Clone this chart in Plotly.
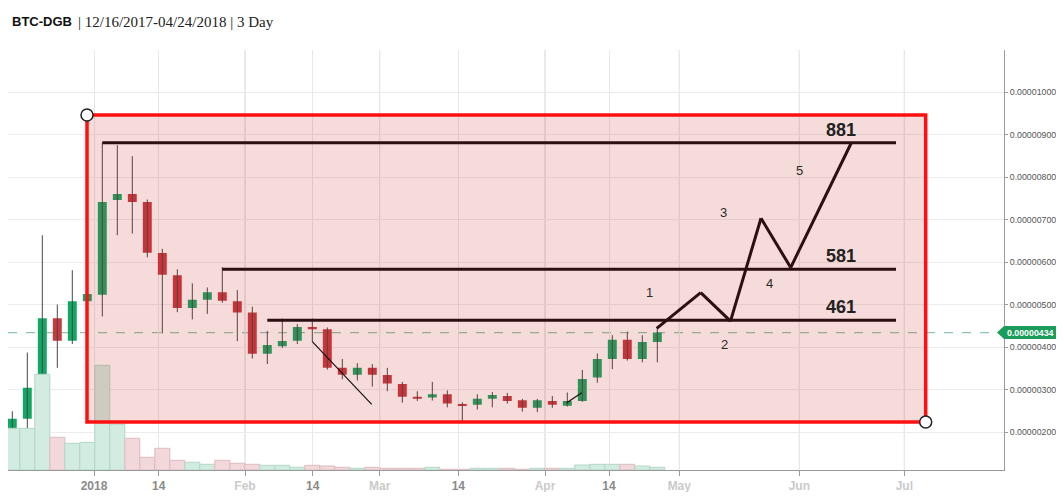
import datetime as dt
import plotly.graph_objects as go

# ---------------- data (prices in units of 1e-8 BTC) ----------------
START = dt.date(2017, 12, 16)
BAR_DAYS = 3
opens  = [168, 231, 305, 468, 415, 508, 523, 746, 760, 741, 621, 569, 492, 511, 529, 508, 481, 384, 402, 415, 447, 442,
          351, 335, 351, 334, 313, 283, 281, 289, 266, 264, 278, 285, 275, 257, 273, 262, 273, 328, 372, 417, 372, 412]
highs  = [249, 387, 663, 500, 581, 527, 881, 875, 849, 747, 631, 583, 550, 540, 588, 534, 495, 438, 467, 454, 467, 446,
          372, 362, 360, 351, 318, 296, 318, 298, 270, 289, 294, 292, 278, 278, 285, 293, 346, 385, 428, 436, 428, 444]
lows   = [154, 207, 303, 351, 407, 506, 472, 663, 667, 611, 432, 482, 465, 478, 504, 414, 373, 360, 398, 407, 412, 347,
          324, 321, 307, 296, 269, 273, 274, 258, 225, 253, 258, 267, 248, 247, 257, 260, 271, 316, 348, 368, 364, 364]
closes = [231, 304, 468, 415, 508, 525, 741, 760, 741, 622, 570, 492, 511, 529, 509, 481, 384, 405, 414, 447, 442, 351,
          335, 351, 335, 314, 283, 278, 289, 267, 261, 278, 287, 273, 257, 275, 264, 273, 325, 372, 417, 372, 412, 434]
volumes = [41.7, 41.7, 95.7, 32.7, 26.7, 27.7, 104.7, 45.7, 31.7, 12.7, 21.7, 9.7, 7.7, 5.7, 9.7, 6.7, 5.7, 4.7, 4.7, 2.7,
           4.7, 4.0, 2.7, 1.7, 2.7, 1.7, 1.7, 1.7, 2.7, 0.7, 0.7, 1.7, 1.7, 1.7, 0.7, 1.7, 1.7, 1.7, 5.0, 5.7, 5.7, 5.7,
           4.0, 2.7]
last_price = 434

# box (zone) in days-since-start / price
zone_days = [14.94, 182.68]
zone_prices = [223.5, 946]

# horizontal levels
level_values = [881, 583, 463]
level_labels = ["881", "581", "461"]
level_start_days = [18, 42, 51]
level_end_day = 176.74

# projected wave path
wave_days = [128.88, 137.68, 143.64, 149.74, 155.68, 167.74]
wave_prices = [444, 528, 461, 703, 587, 879]
wave_label_text = ["1", "2", "3", "4", "5"]
wave_label_days = [127.4, 142.4, 142.3, 151.4, 157.4]
wave_label_prices = [528, 405, 716, 550, 815]

# thin trend strokes
trend_a_days = [60, 71.88]
trend_a_prices = [412.5, 265]
trend_b_days = [110.88, 113.88]
trend_b_prices = [269, 292.5]

# axes
x_tick_days = [16.34, 29.28, 46.54, 60.08, 73.48, 89.2, 106.54, 119.34, 133.4, 157.4, 178.4]
x_tick_labels = ["2018", "14", "Feb", "14", "Mar", "14", "Apr", "14", "May", "Jun", "Jul"]
y_tick_values = [200, 300, 400, 500, 600, 700, 800, 900, 1000]

# ---------------- styles ----------------
GREEN = "#12a863"
RED = "#c63a3f"
VOL_GREEN = "#d2ece1"
VOL_GREEN_LINE = "#b3d8c7"
VOL_RED = "#f2d8da"
VOL_RED_LINE = "#dcbcc0"
X_RANGE = [-0.86, 198.34]
Y_RANGE = [110.6, 1099]
PLOT_W = 996

n = len(opens)
days = [i * BAR_DAYS for i in range(n)]
up = [c >= o for o, c in zip(opens, closes)]

fig = go.Figure()

# volume
fig.add_trace(go.Bar(
    x=days, y=volumes, width=BAR_DAYS, yaxis="y2",
    marker=dict(color=[VOL_GREEN if u else VOL_RED for u in up],
                line=dict(color=[VOL_GREEN_LINE if u else VOL_RED_LINE for u in up], width=1)),
    showlegend=False, hoverinfo="skip"))

# wicks
wx, wy = [], []
for d, lo, hi in zip(days, lows, highs):
    wx += [d, d, None]
    wy += [lo, hi, None]
fig.add_trace(go.Scatter(x=wx, y=wy, mode="lines", line=dict(color="#474747", width=1),
                         showlegend=False, hoverinfo="skip"))

# candle bodies
fig.add_trace(go.Candlestick(
    x=days, open=opens, high=highs, low=lows, close=closes,
    increasing=dict(fillcolor=GREEN, line=dict(color=GREEN, width=0)),
    decreasing=dict(fillcolor=RED, line=dict(color=RED, width=0)),
    whiskerwidth=0, showlegend=False, hoverinfo="skip"))

shapes = []
# darker month gridlines
for d, lab in zip(x_tick_days, x_tick_labels):
    if not lab.isdigit():
        shapes.append(dict(type="line", xref="x", yref="paper", x0=d, x1=d, y0=0, y1=1,
                           line=dict(color="#d4d4d4", width=1), layer="below"))
# last price dashed line
shapes.append(dict(type="line", xref="paper", yref="y", x0=0, x1=1, y0=last_price, y1=last_price,
                   line=dict(color="#8ec6aa", width=1.2, dash="dash"), layer="below"))
# zone
shapes.append(dict(type="rect", xref="x", yref="y", x0=zone_days[0], x1=zone_days[1],
                   y0=zone_prices[0], y1=zone_prices[1],
                   fillcolor="rgba(200,30,30,0.16)", line=dict(color="#ff1010", width=3.5), layer="above"))
# levels
for v, d0 in zip(level_values, level_start_days):
    shapes.append(dict(type="line", xref="x", yref="y", x0=d0, x1=level_end_day, y0=v, y1=v,
                       line=dict(color="#2a1010", width=3), layer="above"))
# wave path
for i in range(len(wave_days) - 1):
    shapes.append(dict(type="line", xref="x", yref="y", x0=wave_days[i], x1=wave_days[i + 1],
                       y0=wave_prices[i], y1=wave_prices[i + 1],
                       line=dict(color="#2a1010", width=3), layer="above"))
# thin strokes
for xs, ys in [(trend_a_days, trend_a_prices), (trend_b_days, trend_b_prices)]:
    shapes.append(dict(type="line", xref="x", yref="y", x0=xs[0], x1=xs[1], y0=ys[0], y1=ys[1],
                       line=dict(color="#1a1010", width=1.2), layer="above"))
# corner handles
for cx, cy in [(zone_days[0], zone_prices[1]), (zone_days[1], zone_prices[0])]:
    shapes.append(dict(type="circle", xref="x", yref="y", xsizemode="pixel", ysizemode="pixel",
                       xanchor=cx, yanchor=cy, x0=-6, x1=6, y0=-6, y1=6,
                       fillcolor="white", line=dict(color="#222", width=1.5), layer="above"))
# price tag
shapes.append(dict(type="path", xref="paper", yref="y", xsizemode="pixel", ysizemode="pixel",
                   xanchor=1, yanchor=last_price,
                   path="M-7,0 L0,6.5 L62,6.5 L62,-6.5 L0,-6.5 Z",
                   fillcolor="#1a9c5b", line=dict(width=0), layer="above"))

annotations = []
for v, lab in zip(level_values, level_labels):
    annotations.append(dict(x=165.74, y=v, xref="x", yref="y", text="<b>" + lab + "</b>", showarrow=False,
                            yanchor="bottom", yshift=1, font=dict(family="Arial", size=18, color="#222")))
for t, d, p in zip(wave_label_text, wave_label_days, wave_label_prices):
    annotations.append(dict(x=d, y=p, xref="x", yref="y", text=t, showarrow=False,
                            font=dict(family="Arial", size=13, color="#2a2a2a")))
annotations.append(dict(x=1, y=last_price, xref="paper", yref="y", xanchor="left", xshift=1,
                        text="<b>%.8f</b>" % (last_price * 1e-8), showarrow=False,
                        font=dict(family="Arial", size=8.8, color="white")))
annotations.append(dict(x=2 / PLOT_W, y=1.0667, xref="paper", yref="paper", xanchor="left", yanchor="middle",
                        text="<b>BTC-DGB</b>", showarrow=False, font=dict(family="Arial", size=13, color="#111")))
annotations.append(dict(x=68 / PLOT_W, y=1.0667, xref="paper", yref="paper", xanchor="left", yanchor="middle",
                        text="| 12/16/2017-04/24/2018 | 3 Day", showarrow=False,
                        font=dict(family="Liberation Serif", size=15, color="#222")))

tick_text = []
for lab in x_tick_labels:
    col = "#8a8a8a" if lab.isdigit() else "#cacaca"
    tick_text.append("<span style='color:%s'><b>%s</b></span>" % (col, lab))

fig.update_layout(
    width=1056, height=484,
    margin=dict(l=0, r=60, t=42, b=22),
    paper_bgcolor="white", plot_bgcolor="white",
    boxgap=0.15, boxgroupgap=0.3,
    showlegend=False,
    shapes=shapes, annotations=annotations,
    xaxis=dict(range=X_RANGE, tickvals=x_tick_days, ticktext=tick_text, showgrid=True, gridcolor="#e8e8e8",
               zeroline=False, showline=True, linecolor="#9a9a9a", ticks="outside", ticklen=5,
               tickcolor="#9a9a9a", tickfont=dict(family="Arial", size=12), rangeslider=dict(visible=False),
               automargin=False),
    yaxis=dict(range=Y_RANGE, side="right", tickvals=y_tick_values,
               ticktext=["%.8f" % (v * 1e-8) for v in y_tick_values],
               showgrid=True, gridcolor="#ececec", zeroline=False, showline=True, linecolor="#9a9a9a",
               ticks="outside", ticklen=3, tickcolor="#9a9a9a", ticklabelstandoff=0,
               tickfont=dict(family="Arial", size=8.8, color="#555"), automargin=False),
    yaxis2=dict(range=[0, 420], overlaying="y", visible=False),
)

fig.write_html("out.html")
